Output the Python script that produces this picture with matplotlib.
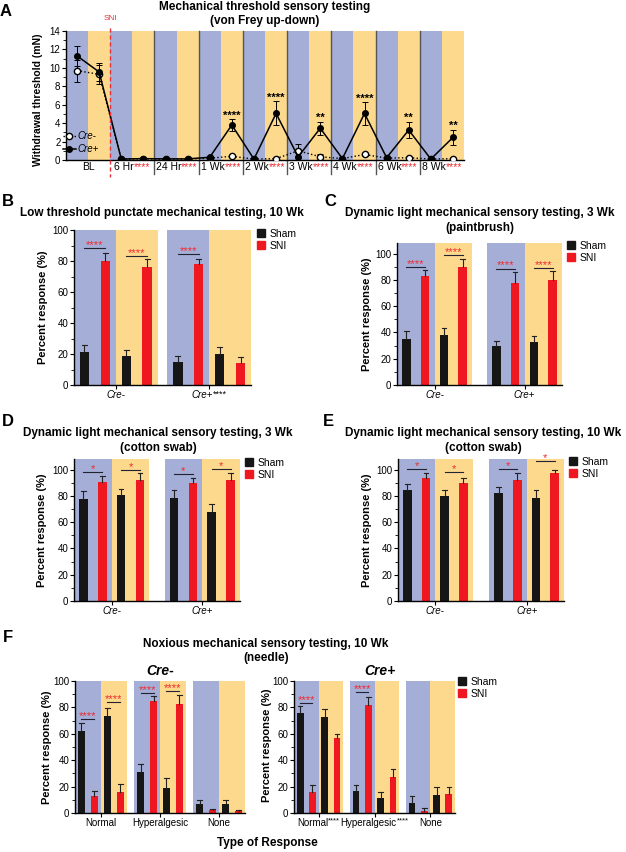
import numpy as np
import matplotlib.pyplot as plt
from matplotlib.patches import Patch
from matplotlib.lines import Line2D
from matplotlib.offsetbox import TextArea, HPacker, AnnotationBbox

plt.rcParams['font.family'] = ['Liberation Sans', 'DejaVu Sans']

W, H = 626, 852
BLUE = '#a4aed6'
YELLOW = '#fcd98c'
RED = '#f01820'
BLACK = '#161616'
ERR = '#222222'
STAR_RED = '#ee2a30'

# ---- panel A: von Frey thresholds (mN), one value per band ----
a_groups = ['BL', '6 Hr', '24 Hr', '1 Wk', '2 Wk', '3 Wk', '4 Wk', '6 Wk', '8 Wk']
a_group_stars = ['', '****', '****', '****', '****', '****', '****', '****', '****']
a_cre_pos = [11.3, 9.55, 0.1, 0.15, 0.12, 0.12, 0.3, 3.8, 0.1, 5.05, 0.35, 3.45, 0.15, 5.05, 0.25, 3.25, 0.1, 2.45]
a_cre_pos_err = [1.1, 1.0, 0.05, 0.05, 0.03, 0.03, 0.1, 0.6, 0.03, 1.3, 0.1, 0.7, 0.05, 1.2, 0.05, 0.9, 0.03, 0.8]
a_cre_neg = [9.7, 9.3, 0.1, 0.12, 0.1, 0.1, 0.2, 0.4, 0.1, 0.15, 1.0, 0.35, 0.15, 0.6, 0.2, 0.25, 0.1, 0.15]
a_cre_neg_err = [1.2, 1.0, 0.03, 0.03, 0.03, 0.03, 0.05, 0.1, 0.03, 0.05, 0.7, 0.3, 0.05, 0.2, 0.05, 0.08, 0.03, 0.05]
a_point_stars = ['', '', '', '', '', '', '', '****', '', '****', '', '**', '', '****', '', '**', '', '**']

# ---- panels B-E: order Cre- blue, Cre- yellow, Cre+ blue, Cre+ yellow ----
b_sham = [21, 19, 15, 20.2]
b_sham_err = [4.8, 3.6, 3.5, 4.5]
b_sni = [80, 76, 78.3, 14]
b_sni_err = [5, 5, 3.2, 4]
b_stars = ['****', '****', '****', '']
b_star_y = [88.4, 83.4, 84.7, 0]

c_sham = [35, 37.8, 29.4, 32.7]
c_sham_err = [6.4, 5.6, 4.1, 4.6]
c_sni = [82.7, 89.8, 77.4, 80.2]
c_sni_err = [4.6, 6.2, 8.4, 6.8]
c_stars = ['****', '****', '****', '****']
c_star_y = [89.8, 98.5, 88.6, 89.1]

d_sham = [77.7, 80.8, 78.2, 67.8]
d_sham_err = [5.6, 4.5, 6.1, 6.1]
d_sni = [90.4, 92.4, 90.1, 92.4]
d_sni_err = [4.5, 5.1, 3.6, 5.1]
d_stars = ['*', '*', '*', '*']
d_star_y = [98.2, 99.5, 96.7, 100.5]

e_sham = [84.6, 79.7, 81.8, 78.7]
e_sham_err = [4.3, 4.6, 4.8, 5.9]
e_sni = [93.5, 89.7, 91.7, 97.6]
e_sni_err = [3.8, 4.1, 5.6, 2.3]
e_stars = ['*', '*', '*', '*']
e_star_y = [100.1, 98.1, 100.1, 106.2]

# ---- panel F: Normal, Hyperalgesic, None (blue, yellow each) ----
f_types = ['Normal', 'Hyperalgesic', 'None']
f_neg_sham = [61.9, 73.7, 31, 18.9, 7.1, 7.1]
f_neg_sham_err = [6.3, 6.1, 6.4, 7.9, 2.5, 2.5]
f_neg_sni = [12.9, 15.9, 84.8, 82.8, 2, 1.3]
f_neg_sni_err = [3.5, 6.3, 3.6, 6.3, 1.3, 0.7]
f_neg_stars = ['****', '****', '****', '****', '', '']
f_neg_star_y = [71.5, 84.1, 90.9, 92.2, 0, 0]

f_pos_sham = [75.8, 73, 16.3, 11.5, 7.4, 13.5]
f_pos_sham_err = [5, 5.5, 4.6, 4.3, 5.4, 6.1]
f_pos_sni = [15.8, 57, 81.6, 27.5, 1.3, 14.5]
f_pos_sni_err = [5.6, 3, 6.4, 6.2, 2.5, 5.1]
f_pos_stars = ['****', '', '****', '', '', '']
f_pos_star_y = [83.4, 0, 91.3, 0, 0, 0]
f_pos_type_stars = ['****', '****', '']

fig = plt.figure(figsize=(W / 100, H / 100), dpi=100)


def px_axes(x0, y0, x1, y1):
    return fig.add_axes([x0 / W, 1 - y1 / H, (x1 - x0) / W, (y1 - y0) / H])


def fig_text(x, y, s, **kw):
    kw.setdefault('ha', 'center')
    kw.setdefault('va', 'center')
    fig.text(x / W, 1 - y / H, s, **kw)


def style_axes(ax):
    for side in ['top', 'right']:
        ax.spines[side].set_visible(False)
    for side in ['left', 'bottom']:
        ax.spines[side].set_linewidth(1.0)
    ax.tick_params(axis='y', labelsize=7, length=3, width=0.8, pad=1)
    ax.tick_params(axis='y', which='minor', length=2, width=0.6)
    ax.tick_params(axis='x', length=3, width=0.8)


def packed_label(ax, x, parts, fontsize=7, dy=-3.5, align='baseline', italic=False):
    # label text followed by stars, whole thing centred on x
    kids = []
    for i, (s, c, fs) in enumerate(parts):
        style = 'italic' if (italic and i == 0) else 'normal'
        kids.append(TextArea(s, textprops=dict(color=c, fontsize=fs or fontsize, fontstyle=style)))
    box = HPacker(children=kids, align=align, pad=0, sep=0)
    ab = AnnotationBbox(box, (x, 0), xycoords=('data', 'axes fraction'), xybox=(0, dy),
                        boxcoords='offset points', box_alignment=(0.5, 1), frameon=False,
                        pad=0, annotation_clip=False)
    ax.add_artist(ab)


def bar_panel(ax, sham, sham_err, sni, sni_err, stars, star_y, n_groups, gap, width, ytop, cap):
    step = 4 + gap
    xs = np.array([g * step + 2 * p for g in range(n_groups) for p in range(2)], dtype=float)
    for i, x0 in enumerate(xs):
        ax.axvspan(x0 - 0.5, x0 + 1.5, color=BLUE if i % 2 == 0 else YELLOW, lw=0, zorder=0)
    ax.bar(xs, sham, width, color=BLACK, zorder=2)
    ax.bar(xs + 1, sni, width, color=RED, zorder=2)
    for xx, v, e in zip(np.r_[xs, xs + 1], np.r_[sham, sni], np.r_[sham_err, sni_err]):
        ax.plot([xx, xx], [v, v + e], color=ERR, lw=0.8, zorder=3)
        ax.plot([xx - cap, xx + cap], [v + e, v + e], color=ERR, lw=0.8, zorder=3)
    for x0, s, yy in zip(xs, stars, star_y):
        if s:
            ax.plot([x0, x0 + 1], [yy, yy], color='#222233', lw=0.8, zorder=3)
            ax.text(x0 + 0.5, yy, s, ha='center', va='baseline', color=STAR_RED,
                    fontsize=8, zorder=4)
    ax.set_xlim(-0.5, (n_groups - 1) * step + 3.5)
    ax.set_ylim(0, ytop)
    ax.set_yticks(np.arange(0, 101, 20))
    ax.set_yticks(np.arange(10, 101, 20), minor=True)
    centers = [g * step + 1.5 for g in range(n_groups)]
    ax.set_xticks(centers)
    ax.set_xticklabels([])
    style_axes(ax)
    return centers


def sham_sni_legend(ax, x, y):
    handles = [Patch(color=BLACK, label='Sham'), Patch(color=RED, label='SNI')]
    ax.legend(handles=handles, loc='upper left', bbox_to_anchor=(x / W, 1 - y / H),
              bbox_transform=fig.transFigure, frameon=False, fontsize=7.5,
              handlelength=0.8, handleheight=0.8, handletextpad=0.4,
              labelspacing=0.15, borderaxespad=0, borderpad=0)


# ---------------- panel A ----------------
axA = px_axes(66, 31, 464, 160)
xa = np.arange(len(a_cre_pos))
for i in xa:
    axA.axvspan(i - 0.5, i + 0.5, color=BLUE if i % 2 == 0 else YELLOW, lw=0, zorder=0)
axA.errorbar(xa, a_cre_pos, yerr=a_cre_pos_err, fmt='-o', color='k', mfc='k', ms=4,
             lw=1.1, elinewidth=0.7, capsize=2, capthick=0.7, zorder=4)
axA.errorbar(xa, a_cre_neg, yerr=a_cre_neg_err, fmt=':o', color='k', mfc='white', ms=4.5,
             lw=1.0, elinewidth=0.7, capsize=2, capthick=0.7, zorder=3)
for i, s in enumerate(a_point_stars):
    if s:
        axA.text(xa[i], a_cre_pos[i] + a_cre_pos_err[i] + 0.1, s, ha='center', va='baseline',
                 fontsize=8, fontweight='bold', color='k', zorder=5)
axA.set_xlim(-0.5, len(xa) - 0.5)
axA.set_ylim(0, 14)
axA.set_yticks(np.arange(0, 15, 2))
axA.set_yticks(np.arange(1, 14, 2), minor=True)
axA.set_xticks([])
style_axes(axA)
trA = axA.get_xaxis_transform()
for g in range(1, len(a_groups)):
    xb = 2 * g - 0.5
    if g == 1:
        axA.plot([xb, xb], [1.02, -0.13], transform=trA, color='#e8323a', lw=1.0,
                 ls=(0, (3, 2)), clip_on=False, zorder=6)
        axA.text(xb, 1.1, 'SNI', transform=trA, ha='center', va='center', color='#e8323a',
                 fontsize=6)
    else:
        axA.plot([xb, xb], [1, -0.11], transform=trA, color='#555555', lw=1.0,
                 clip_on=False, zorder=1)
for g, (name, st) in enumerate(zip(a_groups, a_group_stars)):
    parts = [(name, 'k', None)] + ([(st, STAR_RED, None)] if st else [])
    packed_label(axA, 2 * g + 0.5, parts, fontsize=7.5, dy=-1.5)
legA = [Line2D([], [], ls=':', marker='o', color='k', mfc='white', ms=4.5, lw=1.0),
        Line2D([], [], ls='-', marker='o', color='k', mfc='k', ms=4, lw=1.1)]
axA.legend(legA, ['Cre-', 'Cre+'], loc='upper left', bbox_to_anchor=(63 / W, 1 - 131 / H),
           bbox_transform=fig.transFigure, frameon=False, prop=dict(size=7, style='italic'),
           handlelength=1.3, handletextpad=0.2, labelspacing=0.3, borderaxespad=0, borderpad=0)
fig_text(38, 100, 'Withdrawal threshold (mN)', rotation=90, fontsize=7.5, fontweight='bold')
fig_text(265, 7, 'Mechanical threshold sensory testing', fontsize=8.5, fontweight='bold')
fig_text(265, 21, '(von Frey up-down)', fontsize=8.5, fontweight='bold')
fig_text(6, 12, 'A', fontsize=12, fontweight='bold')

# ---------------- panels B-E ----------------
panels = [
    ('B', (74, 230, 251, 385), b_sham, b_sham_err, b_sni, b_sni_err, b_stars, b_star_y, 0.45, 100,
     (43, 307), (257, 229), ['Low threshold punctate mechanical testing, 10 Wk'], (162, 213), (8, 201),
     ['', '****']),
    ('C', (397, 243, 562, 385), c_sham, c_sham_err, c_sni, c_sni_err, c_stars, c_star_y, 0.8, 108,
     (367, 314), (567, 241), ['Dynamic light mechanical sensory testing, 3 Wk', '(paintbrush)'],
     (480, 213), (330, 201), ['', '']),
    ('D', (74, 459, 240, 601), d_sham, d_sham_err, d_sni, d_sni_err, d_stars, d_star_y, 0.8, 108,
     (42, 530), (245, 458), ['Dynamic light mechanical sensory testing, 3 Wk', '(cotton swab)'],
     (158, 433), (8, 421), ['', '']),
    ('E', (398, 459, 564, 601), e_sham, e_sham_err, e_sni, e_sni_err, e_stars, e_star_y, 0.9, 108,
     (367, 530), (569, 457), ['Dynamic light mechanical sensory testing, 10 Wk', '(cotton swab)'],
     (483, 433), (328, 421), ['', '']),
]
for (letter, rect, sh, she, sn, sne, st, sty, gap, ytop, ylab, leg, titles, tpos, lpos, lstars) in panels:
    ax = px_axes(*rect)
    centers = bar_panel(ax, sh, she, sn, sne, st, sty, 2, gap, 0.46, ytop, 0.12)
    for c, name, ls in zip(centers, ['Cre-', 'Cre+'], lstars):
        parts = [(name, 'k', None)] + ([(ls, 'k', 6.5)] if ls else [])
        packed_label(ax, c, parts, fontsize=7, align='top', italic=True)
    sham_sni_legend(ax, *leg)
    fig_text(ylab[0], ylab[1], 'Percent response (%)', rotation=90, fontsize=8, fontweight='bold')
    for k, t in enumerate(titles):
        fig_text(tpos[0], tpos[1] + 15 * k, t, fontsize=8.5, fontweight='bold')
    fig_text(lpos[0], lpos[1], letter, fontsize=12, fontweight='bold')

# ---------------- panel F ----------------
fig_text(8, 637, 'F', fontsize=12, fontweight='bold')
fig_text(266, 644, 'Noxious mechanical sensory testing, 10 Wk', fontsize=8.5, fontweight='bold')
fig_text(266, 658, '(needle)', fontsize=8.5, fontweight='bold')

axF1 = px_axes(75, 681, 245, 813)
cF1 = bar_panel(axF1, f_neg_sham, f_neg_sham_err, f_neg_sni, f_neg_sni_err, f_neg_stars,
                f_neg_star_y, 3, 0.56, 0.55, 100, 0.18)
for c, name in zip(cF1, f_types):
    packed_label(axF1, c, [(name, 'k', None)], fontsize=7)
fig_text(160, 671, 'Cre-', fontsize=10, fontweight='bold', fontstyle='italic')
fig_text(47, 747, 'Percent response (%)', rotation=90, fontsize=8, fontweight='bold')

axF2 = px_axes(294, 681, 455, 813)
cF2 = bar_panel(axF2, f_pos_sham, f_pos_sham_err, f_pos_sni, f_pos_sni_err, f_pos_stars,
                f_pos_star_y, 3, 0.56, 0.55, 100, 0.18)
for c, name, st in zip(cF2, f_types, f_pos_type_stars):
    parts = [(name, 'k', None)] + ([(st, 'k', 5.5)] if st else [])
    packed_label(axF2, c, parts, fontsize=7, align='top')
fig_text(380, 671, 'Cre+', fontsize=10, fontweight='bold', fontstyle='italic')
fig_text(267, 745, 'Percent response (%)', rotation=90, fontsize=8, fontweight='bold')
sham_sni_legend(axF2, 458, 677)

fig_text(267, 843, 'Type of Response', fontsize=8.5, fontweight='bold')

fig.savefig('out.png', dpi=100)
